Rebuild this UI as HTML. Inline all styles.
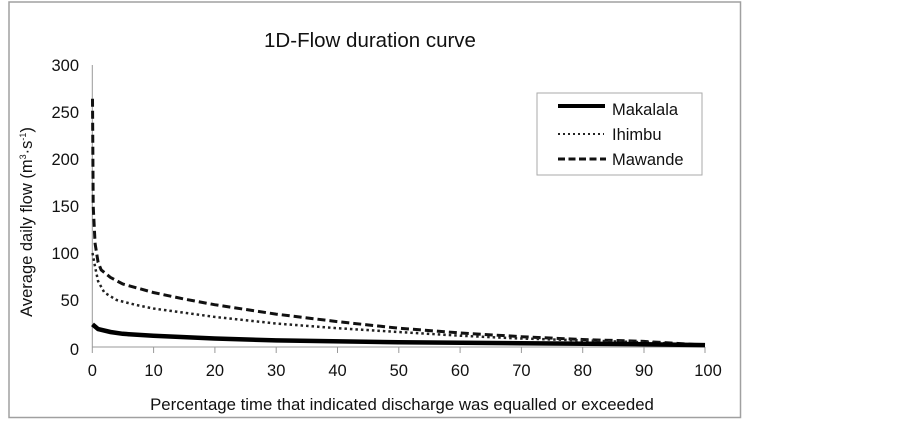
<!DOCTYPE html>
<html><head><style>
html,body{margin:0;padding:0;background:#fff;}
svg{display:block;font-family:"Liberation Sans",Arial,sans-serif;}
</style></head><body>
<svg width="903" height="424" viewBox="0 0 903 424" xmlns="http://www.w3.org/2000/svg">
<rect x="0" y="0" width="903" height="424" fill="#fff"/>
<rect x="9" y="2" width="731.5" height="415.5" fill="#fff" stroke="#a0a0a0" stroke-width="1.5"/>
<text x="370" y="47" font-size="20.5" text-anchor="middle" fill="#111">1D-Flow duration curve</text>
<!-- axes -->
<line x1="92.3" y1="65" x2="92.3" y2="347" stroke="#999" stroke-width="1"/>
<line x1="92.3" y1="347" x2="705" y2="347" stroke="#999" stroke-width="1"/>
<g stroke="#999" stroke-width="1">
<line x1="92.3" y1="347" x2="92.3" y2="353"/><line x1="153.6" y1="347" x2="153.6" y2="353"/><line x1="214.9" y1="347" x2="214.9" y2="353"/><line x1="276.2" y1="347" x2="276.2" y2="353"/><line x1="337.5" y1="347" x2="337.5" y2="353"/><line x1="398.8" y1="347" x2="398.8" y2="353"/><line x1="460.1" y1="347" x2="460.1" y2="353"/><line x1="521.4" y1="347" x2="521.4" y2="353"/><line x1="582.7" y1="347" x2="582.7" y2="353"/><line x1="644" y1="347" x2="644" y2="353"/><line x1="705" y1="347" x2="705" y2="353"/>
</g>
<g font-size="16.5" fill="#111" text-anchor="end">
<text x="79" y="71">300</text><text x="79" y="118">250</text><text x="79" y="165">200</text><text x="79" y="212">150</text><text x="79" y="259">100</text><text x="79" y="306">50</text><text x="79" y="355">0</text>
</g>
<g font-size="16.5" fill="#111" text-anchor="middle">
<text x="92.3" y="376">0</text><text x="153.6" y="376">10</text><text x="214.9" y="376">20</text><text x="276.2" y="376">30</text><text x="337.5" y="376">40</text><text x="398.8" y="376">50</text><text x="460.1" y="376">60</text><text x="521.4" y="376">70</text><text x="582.7" y="376">80</text><text x="644" y="376">90</text><text x="708" y="376">100</text>
</g>
<text x="402" y="410" font-size="16.8" text-anchor="middle" fill="#111">Percentage time that indicated discharge was equalled or exceeded</text>
<text transform="translate(32,222) rotate(-90)" font-size="16.5" text-anchor="middle" fill="#111">Average daily flow (m<tspan font-size="9" dy="-6">3</tspan><tspan dy="6">·s</tspan><tspan font-size="9" dy="-6">-1</tspan><tspan dy="6">)</tspan></text>
<!-- series -->
<polyline fill="none" stroke="#111" stroke-width="3" stroke-dasharray="8,4" points="92.5,98.8 93.2,206 95.1,243.6 98.1,262.4 101.2,269.9 110.4,277.4 122.7,284 153.3,292.5 184,299 214.6,304.7 275.9,314.1 337.2,321.6 398.5,328.2 459.8,332.9 521.1,336.7 582.4,339.5 643.7,341.4 705,345.1"/>
<polyline fill="none" stroke="#222" stroke-width="2.5" stroke-dasharray="2.5,3" points="92.5,253 95.1,267 98.1,281.2 104.3,292.5 116.5,300 134.9,304.7 153.3,308.5 214.6,316.9 275.9,323.5 337.2,328.2 398.5,332 459.8,335.7 521.1,338.5 582.4,340.4 643.7,342.3 705,345.1"/>
<polyline fill="none" stroke="#000" stroke-width="4.5" points="92.5,324.4 98.1,329.1 110.4,332 122.7,333.8 153.3,335.7 214.6,338.5 275.9,340.4 398.5,342.3 521.1,343.2 643.7,344.2 705,345.1"/>
<!-- legend -->
<rect x="537" y="93" width="165" height="82" fill="#fff" stroke="#aaa" stroke-width="1"/>
<line x1="558" y1="106" x2="605" y2="106" stroke="#000" stroke-width="4"/>
<line x1="558" y1="134" x2="604" y2="134" stroke="#222" stroke-width="2" stroke-dasharray="2,3"/>
<line x1="558" y1="159" x2="606" y2="159" stroke="#111" stroke-width="3" stroke-dasharray="7,3.5"/>
<g font-size="16.5" fill="#111">
<text x="612" y="115">Makalala</text><text x="612" y="140">Ihimbu</text><text x="612" y="165">Mawande</text>
</g>
</svg>
</body></html>
